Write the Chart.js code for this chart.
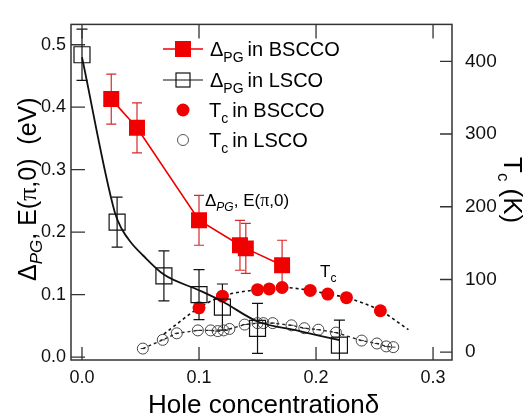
<!DOCTYPE html>
<html><head><meta charset="utf-8">
<script src="https://cdn.jsdelivr.net/npm/chart.js@4/dist/chart.umd.min.js"></script>
<style>html,body{margin:0;padding:0;background:#fff;}#wrap{width:525px;height:417px;}</style>
</head><body><div id="wrap"><canvas id="c" width="525" height="417"></canvas></div>
<script>
// ---- tick labels ----
const xTicks = [0, 0.1, 0.2, 0.3];
const yTicks = [0, 0.1, 0.2, 0.3, 0.4, 0.5];
const tcTicks = [0, 100, 200, 300, 400];

// ---- Delta_PG in BSCCO (eV) ----
const pgBsccoX = [0.025, 0.047, 0.100, 0.135, 0.140, 0.171];
const pgBsccoY = [0.413, 0.367, 0.219, 0.179, 0.174, 0.147];
const pgBsccoErr = [0.040, 0.040, 0.040, 0.040, 0.040, 0.040];

// ---- Delta_PG in LSCO (eV) ----
const pgLscoX = [0.000, 0.030, 0.070, 0.100, 0.120, 0.150, 0.220];
const pgLscoY = [0.484, 0.216, 0.130, 0.100, 0.080, 0.046, 0.019];
const pgLscoErr = [0.041, 0.040, 0.040, 0.040, 0.037, 0.040, 0.040];

// ---- smooth guide curve through LSCO gap ----
const pgLscoCurveX = [0.000, 0.028, 0.034, 0.042, 0.052, 0.070, 0.100, 0.120, 0.150, 0.185, 0.220];
const pgLscoCurveY = [0.480, 0.232, 0.205, 0.183, 0.163, 0.132, 0.107, 0.089, 0.057, 0.042, 0.027];

// ---- Tc in BSCCO (K) ----
const tcBsccoX = [0.100, 0.120, 0.150, 0.160, 0.171, 0.195, 0.210, 0.226, 0.255];
const tcBsccoY = [61, 77, 86, 87, 89, 85, 80, 75, 57];
// dotted guide curve for BSCCO Tc
const tcBsccoCurveX = [0.070, 0.100, 0.120, 0.150, 0.171, 0.195, 0.210, 0.226, 0.255, 0.279];
const tcBsccoCurveY = [25, 61, 77, 86, 89, 85, 80, 75, 57, 31];

// ---- Tc in LSCO (K) ----
const tcLscoX = [0.052, 0.069, 0.081, 0.099, 0.110, 0.116, 0.121, 0.126, 0.139, 0.150, 0.155, 0.163, 0.179, 0.190, 0.202, 0.217, 0.239, 0.252, 0.260, 0.266];
const tcLscoY = [5, 17, 26, 30, 30, 29, 30, 32, 38, 40, 40, 40, 37, 33, 31, 27, 16, 12, 8, 7];

const SANS = '"Liberation Sans", Arial, Helvetica, sans-serif';
const SERIF = '"Liberation Serif", "Times New Roman", serif';
const RED = 'rgb(240,0,0)';
const ERRRED = 'rgb(215,40,40)';

const pts = (xs, ys) => xs.map((x, i) => ({x: x, y: ys[i]}));

function drawRich(ctx, segs, x, y, angle) {
  ctx.save();
  ctx.translate(x, y);
  ctx.rotate(angle);
  ctx.textAlign = 'left';
  ctx.textBaseline = 'alphabetic';
  let cx = 0;
  for (const s of segs) {
    ctx.font = s.f;
    ctx.fillStyle = s.c || '#000';
    ctx.fillText(s.t, cx, s.dy || 0);
    cx += ctx.measureText(s.t).width + (s.after || 0);
  }
  ctx.restore();
}

const decor = {
  id: 'decor',
  beforeDatasetsDraw(chart) {
    const ctx = chart.ctx, xs = chart.scales.x, ys = chart.scales.y, a = chart.chartArea;
    ctx.save();
    ctx.beginPath();
    ctx.rect(a.left, a.top, a.right - a.left, a.bottom - a.top);
    ctx.clip();
    const bars = (X, Y, E, color, cap) => {
      ctx.strokeStyle = color;
      ctx.lineWidth = 1.2;
      X.forEach((x, i) => {
        const px = xs.getPixelForValue(x);
        const t = ys.getPixelForValue(Y[i] + E[i]);
        const b = ys.getPixelForValue(Y[i] - E[i]);
        ctx.beginPath();
        ctx.moveTo(px, t); ctx.lineTo(px, b);
        ctx.moveTo(px - cap, t); ctx.lineTo(px + cap, t);
        ctx.moveTo(px - cap, b); ctx.lineTo(px + cap, b);
        ctx.stroke();
      });
    };
    bars(pgLscoX, pgLscoY, pgLscoErr, '#111', 5.5);
    bars(pgBsccoX, pgBsccoY, pgBsccoErr, ERRRED, 5);
    ctx.restore();
  },
  afterDraw(chart) {
    const ctx = chart.ctx, a = chart.chartArea;
    const xs = chart.scales.x, ys = chart.scales.y, y2 = chart.scales.y2;
    ctx.save();
    // frame
    ctx.strokeStyle = '#333';
    ctx.lineWidth = 1.5;
    ctx.strokeRect(a.left, a.top, a.right - a.left, a.bottom - a.top);
    // inward ticks
    ctx.lineWidth = 1.3;
    ctx.beginPath();
    xTicks.forEach(v => {
      const p = xs.getPixelForValue(v);
      ctx.moveTo(p, a.bottom); ctx.lineTo(p, a.bottom - 13);
      ctx.moveTo(p, a.top); ctx.lineTo(p, a.top + 14);
    });
    yTicks.forEach(v => {
      const p = ys.getPixelForValue(v);
      ctx.moveTo(a.left, p); ctx.lineTo(a.left + 14, p);
    });
    tcTicks.forEach(v => {
      const p = y2.getPixelForValue(v);
      ctx.moveTo(a.right, p); ctx.lineTo(a.right - 12, p);
    });
    ctx.stroke();

    // axis titles
    drawRich(ctx, [
      {t: 'Δ', f: '25px ' + SANS},
      {t: 'PG', f: 'italic 17px ' + SANS, dy: 6},
      {t: ', E(', f: '25px ' + SANS},
      {t: 'π', f: '26px ' + SERIF},
      {t: ',0)  (eV)', f: '25px ' + SANS}
    ], 36, 281, -Math.PI / 2);
    drawRich(ctx, [
      {t: 'T', f: '26px ' + SANS},
      {t: 'c', f: '17px ' + SANS, dy: 6},
      {t: ' (K)', f: '26px ' + SANS}
    ], 504, 157, Math.PI / 2);
    drawRich(ctx, [
      {t: 'Hole concentration', f: '26px ' + SANS},
      {t: 'δ', f: '26px ' + SANS}
    ], 148, 413, 0);

    // annotations
    drawRich(ctx, [
      {t: 'Δ', f: '17px ' + SANS},
      {t: 'PG', f: 'italic 12px ' + SANS, dy: 5},
      {t: ', E(', f: '17px ' + SANS},
      {t: 'π', f: '18px ' + SERIF},
      {t: ',0)', f: '17px ' + SANS}
    ], 205, 206, 0);
    drawRich(ctx, [
      {t: 'T', f: '17px ' + SANS},
      {t: 'c', f: '12px ' + SANS, dy: 5}
    ], 320, 277, 0);

    // legend
    const lx = 183, rows = [49, 80, 110, 140];
    ctx.strokeStyle = RED; ctx.lineWidth = 1.5;
    ctx.beginPath(); ctx.moveTo(163, rows[0]); ctx.lineTo(203, rows[0]); ctx.stroke();
    ctx.fillStyle = RED; ctx.fillRect(lx - 8, rows[0] - 8, 16, 16);
    ctx.strokeStyle = '#111'; ctx.lineWidth = 1.2;
    ctx.beginPath(); ctx.moveTo(163, rows[1]); ctx.lineTo(203, rows[1]); ctx.stroke();
    ctx.strokeRect(lx - 7, rows[1] - 7, 14, 14);
    ctx.fillStyle = RED;
    ctx.beginPath(); ctx.arc(lx, rows[2], 6.5, 0, Math.PI * 2); ctx.fill();
    ctx.strokeStyle = '#555'; ctx.lineWidth = 1;
    ctx.beginPath(); ctx.arc(lx, rows[3], 5.5, 0, Math.PI * 2); ctx.stroke();
    const lf = '20px ' + SANS, sf = '14px ' + SANS;
    drawRich(ctx, [{t: 'Δ', f: lf}, {t: 'PG', f: sf, dy: 6, after: 4}, {t: 'in BSCCO', f: lf}], 210, rows[0] + 7, 0);
    drawRich(ctx, [{t: 'Δ', f: lf}, {t: 'PG', f: sf, dy: 6, after: 4}, {t: 'in LSCO', f: lf}], 210, rows[1] + 7, 0);
    drawRich(ctx, [{t: 'T', f: lf}, {t: 'c', f: sf, dy: 6, after: 4}, {t: 'in BSCCO', f: lf}], 209, rows[2] + 7, 0);
    drawRich(ctx, [{t: 'T', f: lf}, {t: 'c', f: sf, dy: 6, after: 4}, {t: 'in LSCO', f: lf}], 209, rows[3] + 7, 0);
    ctx.restore();
  }
};

const tickFont = {family: SANS, size: 18};

new Chart(document.getElementById('c'), {
  type: 'line',
  data: {
    datasets: [
      {
        label: 'ΔPG in BSCCO', data: pts(pgBsccoX, pgBsccoY), yAxisID: 'y',
        borderColor: RED, backgroundColor: RED, borderWidth: 1.6,
        pointStyle: 'rect', pointRadius: 11.3, pointBorderWidth: 0, tension: 0
      },
      {
        label: 'ΔPG in LSCO', data: pts(pgLscoX, pgLscoY), yAxisID: 'y',
        showLine: false, borderColor: '#111', backgroundColor: 'rgba(0,0,0,0)',
        pointStyle: 'rect', pointRadius: 11.3, pointBorderWidth: 1.2
      },
      {
        label: 'LSCO guide', data: pts(pgLscoCurveX, pgLscoCurveY), yAxisID: 'y',
        borderColor: '#111', borderWidth: 1.8, pointRadius: 0, cubicInterpolationMode: 'monotone'
      },
      {
        label: 'Tc in BSCCO', data: pts(tcBsccoX, tcBsccoY), yAxisID: 'y2',
        showLine: false, borderColor: RED, backgroundColor: RED,
        pointStyle: 'circle', pointRadius: 6.5, pointBorderWidth: 0
      },
      {
        label: 'Tc BSCCO guide', data: pts(tcBsccoCurveX, tcBsccoCurveY), yAxisID: 'y2',
        borderColor: '#111', borderWidth: 1.6, borderDash: [3, 3], pointRadius: 0,
        cubicInterpolationMode: 'monotone'
      },
      {
        label: 'Tc in LSCO', data: pts(tcLscoX, tcLscoY), yAxisID: 'y2',
        borderColor: '#222', borderWidth: 1.4, borderDash: [3, 3],
        backgroundColor: 'rgba(0,0,0,0)', pointBorderColor: '#444',
        pointStyle: 'circle', pointRadius: 5.5, pointBorderWidth: 1, tension: 0
      },
      {
        label: 'Tc in LSCO inner', data: pts(tcLscoX, tcLscoY), yAxisID: 'y2',
        showLine: false, borderColor: '#333', pointStyle: 'line', pointRadius: 2.2, pointBorderWidth: 1
      }
    ]
  },
  options: {
    responsive: false,
    devicePixelRatio: 1,
    animation: false,
    layout: {padding: {top: 14, left: 0, right: 0, bottom: 0}},
    plugins: {legend: {display: false}, tooltip: {enabled: false}},
    scales: {
      x: {
        type: 'linear', position: 'bottom', min: -0.0094, max: 0.3162,
        grid: {display: false, drawTicks: false}, border: {display: false},
        ticks: {font: tickFont, color: '#111', padding: 7, autoSkip: false, maxRotation: 0,
          callback: v => Number(v).toFixed(1)},
        afterBuildTicks: s => { s.ticks = xTicks.map(v => ({value: v})); },
        afterFit: s => { s.height = 57; }
      },
      y: {
        type: 'linear', position: 'left', min: -0.0047, max: 0.5326,
        grid: {display: false, drawTicks: false}, border: {display: false},
        ticks: {font: tickFont, color: '#111', padding: 5, callback: v => Number(v).toFixed(1)},
        afterBuildTicks: s => { s.ticks = yTicks.map(v => ({value: v})); },
        afterFit: s => { s.width = 71; }
      },
      y2: {
        type: 'linear', position: 'right', min: -10.7, max: 450.7,
        grid: {display: false, drawTicks: false}, border: {display: false},
        ticks: {font: {family: SANS, size: 19}, color: '#111', padding: 13, callback: v => String(v)},
        afterBuildTicks: s => { s.ticks = tcTicks.map(v => ({value: v})); },
        afterFit: s => { s.width = 73; }
      }
    }
  },
  plugins: [decor]
});
</script>
</body></html>
